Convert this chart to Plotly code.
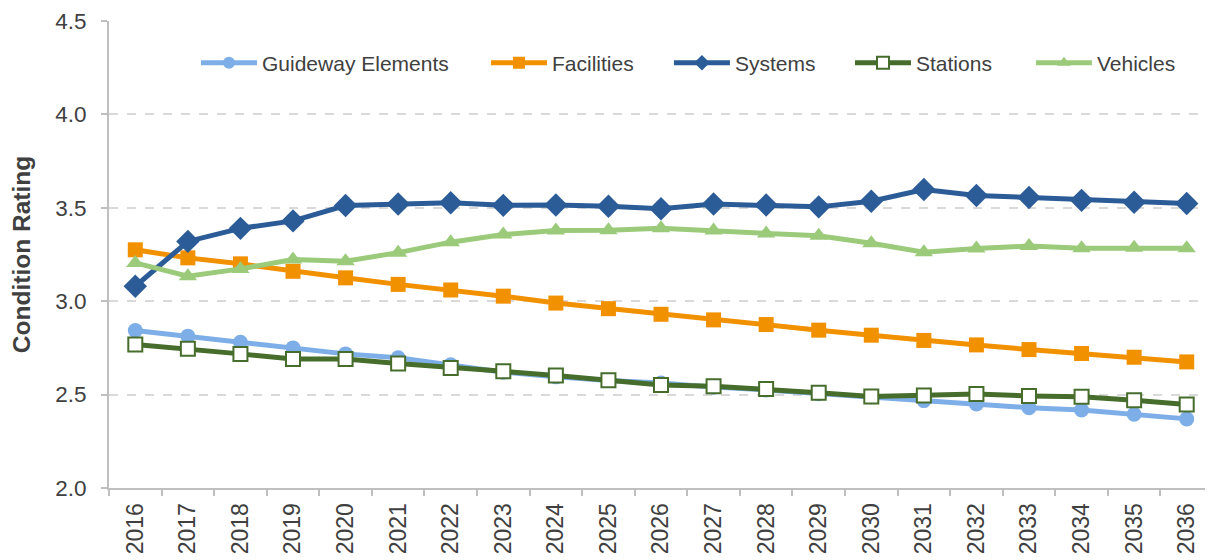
import plotly.graph_objects as go

years = [str(y) for y in range(2016, 2037)]

guideway = [2.843, 2.813, 2.78, 2.75, 2.718, 2.697, 2.66, 2.62, 2.595, 2.575, 2.562,
            2.54, 2.525, 2.505, 2.488, 2.468, 2.45, 2.43, 2.418, 2.395, 2.37]
facilities = [3.275, 3.232, 3.2, 3.16, 3.125, 3.09, 3.06, 3.027, 2.99, 2.96, 2.93,
              2.90, 2.875, 2.845, 2.818, 2.79, 2.766, 2.741, 2.72, 2.70, 2.675]
systems = [3.08, 3.32, 3.39, 3.43, 3.512, 3.52, 3.527, 3.513, 3.515, 3.508, 3.495,
           3.52, 3.515, 3.505, 3.535, 3.598, 3.566, 3.555, 3.54, 3.53, 3.523]
stations = [2.768, 2.745, 2.718, 2.69, 2.69, 2.667, 2.643, 2.625, 2.602, 2.577, 2.552,
            2.545, 2.53, 2.51, 2.49, 2.495, 2.503, 2.493, 2.488, 2.47, 2.447]
vehicles = [3.205, 3.134, 3.173, 3.223, 3.214, 3.26, 3.316, 3.357, 3.378, 3.38, 3.39,
            3.378, 3.362, 3.35, 3.31, 3.262, 3.282, 3.295, 3.284, 3.286, 3.284]

series = [
    ("Guideway Elements", guideway, "#7EAEE8", "circle", 15, "#7EAEE8", 0),
    ("Facilities", facilities, "#F29100", "square", 15, "#F29100", 0),
    ("Systems", systems, "#2B5C97", "diamond", 18, "#2B5C97", 0),
    ("Stations", stations, "#466D2C", "square", 14, "#FFFFFF", 2),
    ("Vehicles", vehicles, "#9BCB7A", "triangle-up", 16, "#9BCB7A", 0),
]

legend_names = ["legend", "legend2", "legend3", "legend4", "legend5"]
legend_x = [0.0788, 0.3415, 0.5072, 0.6712, 0.8351]

font_color = "#404040"

fig = go.Figure()
for (name, vals, color, sym, size, fill, lw), lg in zip(series, legend_names):
    fig.add_trace(go.Scatter(
        x=years, y=vals, name=name, mode="lines+markers",
        line=dict(color=color, width=5),
        marker=dict(symbol=sym, size=size, color=fill,
                    line=dict(color=color, width=lw)),
        legend=lg,
    ))

legend_common = dict(orientation="h", y=0.91, xanchor="left", yanchor="middle",
                     font=dict(size=21, color=font_color), itemwidth=56,
                     itemsizing="constant", bgcolor="rgba(0,0,0,0)")
layout_legends = {}
for lg, lx in zip(legend_names, legend_x):
    layout_legends[lg] = dict(x=lx, **legend_common)

# page body has an 8px default margin; size the figure so the plot lands where the reference's does
fig.update_layout(
    width=1205, height=552,
    margin=dict(l=101, r=0, t=13, b=72),
    paper_bgcolor="white", plot_bgcolor="white",
    font=dict(family="Liberation Sans, Arial, sans-serif", color=font_color, size=22),
    showlegend=True,
    **layout_legends,
)
fig.update_xaxes(
    type="category", range=[-0.5, len(years) - 0.5], automargin=False,
    showgrid=False, showline=True, linecolor="#BFBFBF", linewidth=2,
    ticks="outside", tickson="boundaries", ticklen=6, tickcolor="#BFBFBF", tickwidth=2,
    tickangle=-90, tickfont=dict(size=23, color=font_color), ticklabelstandoff=4,
)
fig.update_yaxes(
    range=[2.0, 4.5], dtick=0.5, tick0=2.0, tickformat=".1f", automargin=False,
    showgrid=True, gridcolor="#D9D9D9", griddash="dash", gridwidth=1.5,
    showline=True, linecolor="#BFBFBF", linewidth=2,
    ticks="outside", ticklen=6, tickcolor="#BFBFBF", tickwidth=2,
    tickfont=dict(size=22.5, color=font_color), ticklabelstandoff=10,
    zeroline=False,
    title=dict(text="Condition Rating", font=dict(size=24.5, color=font_color, weight="bold"),
               standoff=19),
)

fig.write_html("out.html")
